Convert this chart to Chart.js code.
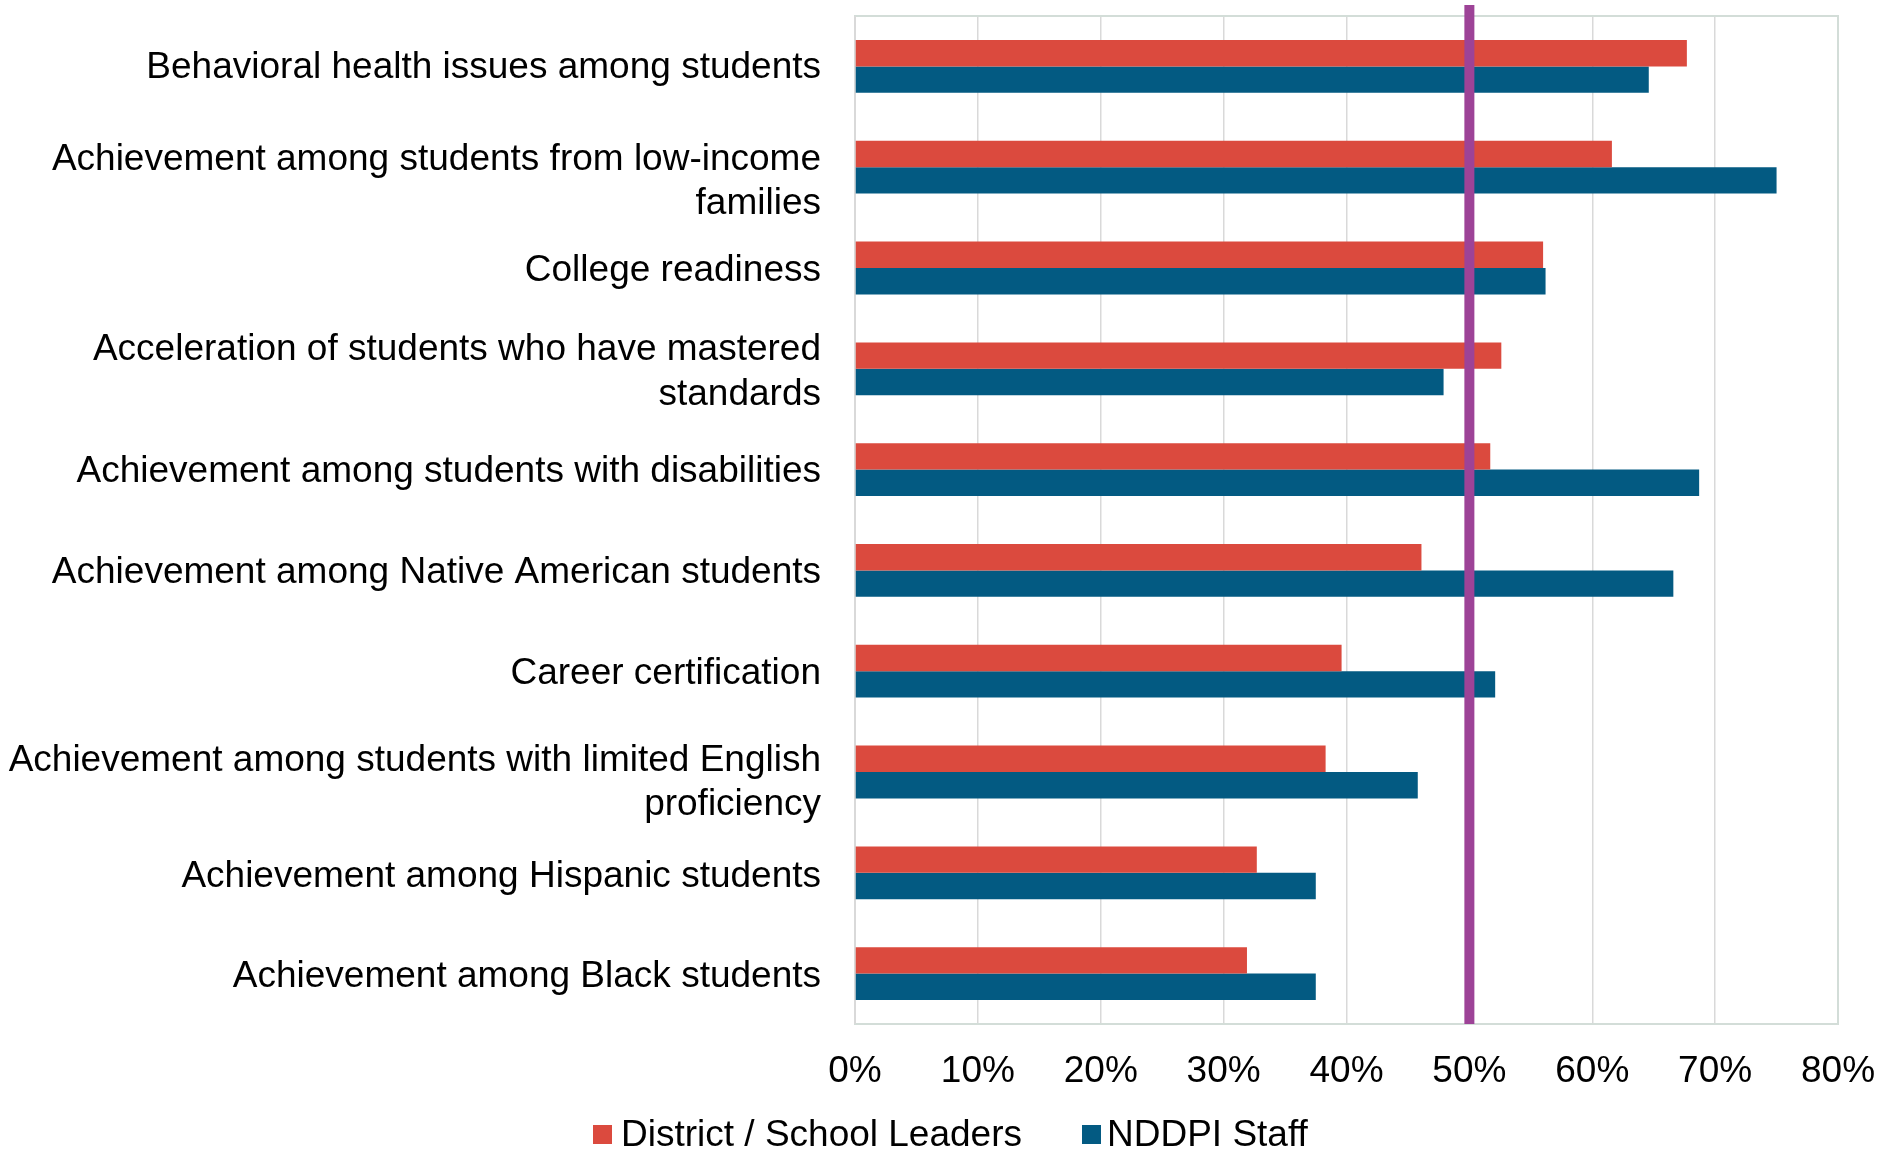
<!DOCTYPE html>
<html>
<head>
<meta charset="utf-8">
<script src="https://cdn.jsdelivr.net/npm/chart.js@4/dist/chart.umd.min.js"></script>
<style>
html,body{margin:0;padding:0;background:#fff;}
#wrap{width:1883px;height:1151px;position:relative;}
</style>
</head>
<body>
<div id="wrap"><canvas id="c" width="1883" height="1151"></canvas></div>
<script>
const categories = [
  "Behavioral health issues among students",
  ["Achievement among students from low-income", "families"],
  "College readiness",
  ["Acceleration of students who have mastered", "standards"],
  "Achievement among students with disabilities",
  "Achievement among Native American students",
  "Career certification",
  ["Achievement among students with limited English", "proficiency"],
  "Achievement among Hispanic students",
  "Achievement among Black students"
];
const seriesNames = ["District / School Leaders", "NDDPI Staff"];
const leaders = [67.7, 61.6, 56.0, 52.6, 51.7, 46.1, 39.6, 38.3, 32.7, 31.9];
const staff   = [64.6, 75.0, 56.2, 47.9, 68.7, 66.6, 52.1, 45.8, 37.5, 37.5];
const xTicks = [0, 10, 20, 30, 40, 50, 60, 70, 80];
const referenceLine = 50;

const FONT = '"Liberation Sans", Arial, sans-serif';
const RED = '#DB4A3E';
const BLUE = '#035A82';
const PURPLE = '#9D4397';
// small vertical nudges of category labels (px), mimicking the original layout
const labelNudge = [1.2, 14.4, 2.4, 3.6, 2.4, 2.4, 2.4, 10.8, 3.6, 3.6];

const framePlugin = {
  id: 'frame',
  beforeDatasetsDraw(chart) {
    const {ctx, chartArea: a} = chart;
    ctx.save();
    ctx.strokeStyle = '#D3DDD8';
    ctx.lineWidth = 2;
    ctx.strokeRect(a.left, a.top, a.right - a.left, a.bottom - a.top);
    ctx.strokeStyle = '#D9D9D9';
    ctx.beginPath();
    ctx.moveTo(a.left, a.top);
    ctx.lineTo(a.left, a.bottom);
    ctx.stroke();
    ctx.restore();
  },
  afterDatasetsDraw(chart) {
    const {ctx, chartArea: a, scales} = chart;
    const x = scales.x.getPixelForValue(referenceLine);
    ctx.save();
    ctx.strokeStyle = PURPLE;
    ctx.lineWidth = 10;
    ctx.beginPath();
    ctx.moveTo(x, a.top - 11);
    ctx.lineTo(x, a.bottom);
    ctx.stroke();
    ctx.restore();
  },
  afterDraw(chart) {
    const {ctx, chartArea: a, scales} = chart;
    const ys = scales.y;
    const lh = 37 * 1.2;
    ctx.save();
    ctx.font = '37px ' + FONT;
    ctx.fillStyle = '#000';
    ctx.textBaseline = 'middle';
    ctx.textAlign = 'right';
    chart.data.labels.forEach((lab, i) => {
      const lines = Array.isArray(lab) ? lab : [lab];
      const y0 = ys.getPixelForTick(i) + labelNudge[i] - (lines.length - 1) * lh / 2;
      lines.forEach((t, j) => ctx.fillText(t, a.left - 34, y0 + j * lh));
    });

    const items = [
      {box: 593, text: 621},
      {box: 1082, text: 1107}
    ];
    ctx.textAlign = 'left';
    chart.data.datasets.forEach((ds, i) => {
      const it = items[i];
      ctx.fillStyle = ds.backgroundColor;
      ctx.fillRect(it.box, 1125, 19, 19);
      ctx.fillStyle = '#000';
      ctx.fillText(ds.label, it.text, 1136);
    });
    ctx.restore();
  }
};

new Chart(document.getElementById('c'), {
  type: 'bar',
  data: {
    labels: categories,
    datasets: [
      {label: seriesNames[0], data: leaders, backgroundColor: RED, borderWidth: 0},
      {label: seriesNames[1], data: staff, backgroundColor: BLUE, borderWidth: 0}
    ]
  },
  options: {
    indexAxis: 'y',
    responsive: false,
    animation: false,
    devicePixelRatio: 1,
    categoryPercentage: 0.524,
    barPercentage: 1,
    layout: {padding: {left: 6, right: 45, top: 16, bottom: 0}},
    plugins: {legend: {display: false}, tooltip: {enabled: false}},
    scales: {
      x: {
        min: 0, max: 80,
        afterBuildTicks(scale) { scale.ticks = xTicks.map(v => ({value: v})); },
        afterFit(scale) { scale.height = 127; scale.paddingLeft = 0; scale.paddingRight = 0; },
        ticks: {
          callback: v => v + '%',
          color: '#000',
          font: {family: FONT, size: 37},
          padding: 26,
          maxRotation: 0
        },
        grid: {color: '#D9D9D9', lineWidth: 1.5, drawTicks: false},
        border: {display: false}
      },
      y: {
        afterFit(scale) { scale.width = 849; scale.paddingTop = 0; scale.paddingBottom = 0; },
        ticks: {
          display: false,
          font: {family: FONT, size: 37},
          autoSkip: false
        },
        grid: {display: false, drawTicks: false},
        border: {display: false}
      }
    }
  },
  plugins: [framePlugin]
});
</script>
</body>
</html>
